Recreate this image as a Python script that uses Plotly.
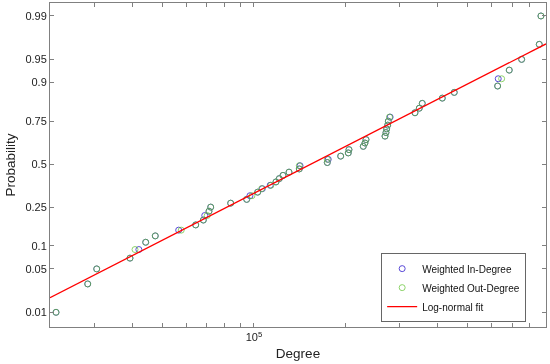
import math
from statistics import NormalDist
import plotly.graph_objects as go

# ---- data ----
in_degree = [22500, 28570, 30570, 39290, 42000, 44220, 47530, 56700, 64460, 68270,
             69000, 71250, 72170, 83890, 94650, 97000, 102830, 106500, 113000, 118030,
             121000, 124420, 130220, 140700, 141500, 173760, 175000, 192200, 203500, 204600,
             227900, 230800, 232600, 268400, 270400, 271800, 273900, 275200, 279000, 336400,
             347500, 355400, 413300, 452300, 627200, 630000, 684500, 751600, 858300, 869300]
out_degree = [22500, 28570, 30570, 39290, 40800, 44220, 47530, 57800, 64460, 68270,
              70300, 71250, 72170, 83890, 94650, 98500, 102830, 105970, 113650, 118030,
              121000, 124420, 130220, 140700, 140700, 173760, 173760, 192200, 203500, 204600,
              227900, 230800, 232600, 268400, 270400, 271800, 273900, 275200, 277700, 336400,
              347500, 355400, 413300, 452300, 627200, 646400, 684500, 751600, 858300, 869300]
fit_mu = 11.943      # lognormal mu (ln scale)
fit_sigma = 0.938    # lognormal sigma (ln scale)
x_limits = [21500, 903000]
prob_ticks = [0.01, 0.05, 0.1, 0.25, 0.5, 0.75, 0.9, 0.95, 0.99]
prob_labels = ["0.01", "0.05", "0.1", "0.25", "0.5", "0.75", "0.9", "0.95", "0.99"]
x_minor_ticks = [3e4, 4e4, 5e4, 6e4, 7e4, 8e4, 9e4, 1e5, 2e5, 3e5, 4e5, 5e5, 6e5, 7e5, 8e5, 9e5]

nd = NormalDist()


def plotting_positions(vals):
    n = len(vals)
    return [nd.inv_cdf((i + 0.5) / n) for i in range(n)]


fit_z = [(math.log(v) - fit_mu) / fit_sigma for v in x_limits]

FONT = "Arial, Liberation Sans, sans-serif"

fig = go.Figure()
fig.add_trace(go.Scatter(
    x=sorted(in_degree), y=plotting_positions(in_degree), mode="markers",
    name="Weighted In-Degree",
    marker=dict(symbol="circle-open", size=6, color="#5a4ad8", line=dict(width=1))))
fig.add_trace(go.Scatter(
    x=sorted(out_degree), y=plotting_positions(out_degree), mode="markers",
    name="Weighted Out-Degree", opacity=0.7,
    marker=dict(symbol="circle-open", size=6, color="#5cc02a", line=dict(width=1))))
fig.add_trace(go.Scatter(
    x=x_limits, y=fit_z, mode="lines", name="Log-normal fit",
    line=dict(color="#ff0000", width=1.3)))

axis_common = dict(
    showline=True, linecolor="#808080", linewidth=1, mirror="ticks",
    ticks="inside", ticklen=4, tickcolor="#808080", showgrid=False, zeroline=False,
    tickfont=dict(family=FONT, size=11, color="#222222"),
)

fig.update_layout(
    width=550, height=364,
    margin=dict(l=50, r=4, t=3, b=37),
    paper_bgcolor="white", plot_bgcolor="white",
    font=dict(family=FONT, color="#222222"),
    xaxis=dict(
        type="log", range=[math.log10(x_limits[0]), math.log10(x_limits[1])],
        tickvals=x_minor_ticks,
        ticktext=["10<sup>5</sup>" if v == 1e5 else "" for v in x_minor_ticks],
        title=dict(text="Degree", font=dict(family=FONT, size=13.5), standoff=6),
        **axis_common),
    yaxis=dict(
        range=[-2.557, 2.530],
        tickvals=[nd.inv_cdf(p) for p in prob_ticks], ticktext=prob_labels,
        title=dict(text="Probability", font=dict(family=FONT, size=13.5), standoff=6),
        **axis_common),
    legend=dict(
        x=0.96, y=0.015, xanchor="right", yanchor="bottom",
        bgcolor="white", bordercolor="#666666", borderwidth=1,
        font=dict(family=FONT, size=10, color="#111111"),
        tracegroupgap=0,
    ),
)

fig.write_html("out.html", config={"displayModeBar": False},
               post_script="document.body.style.margin='0';")
